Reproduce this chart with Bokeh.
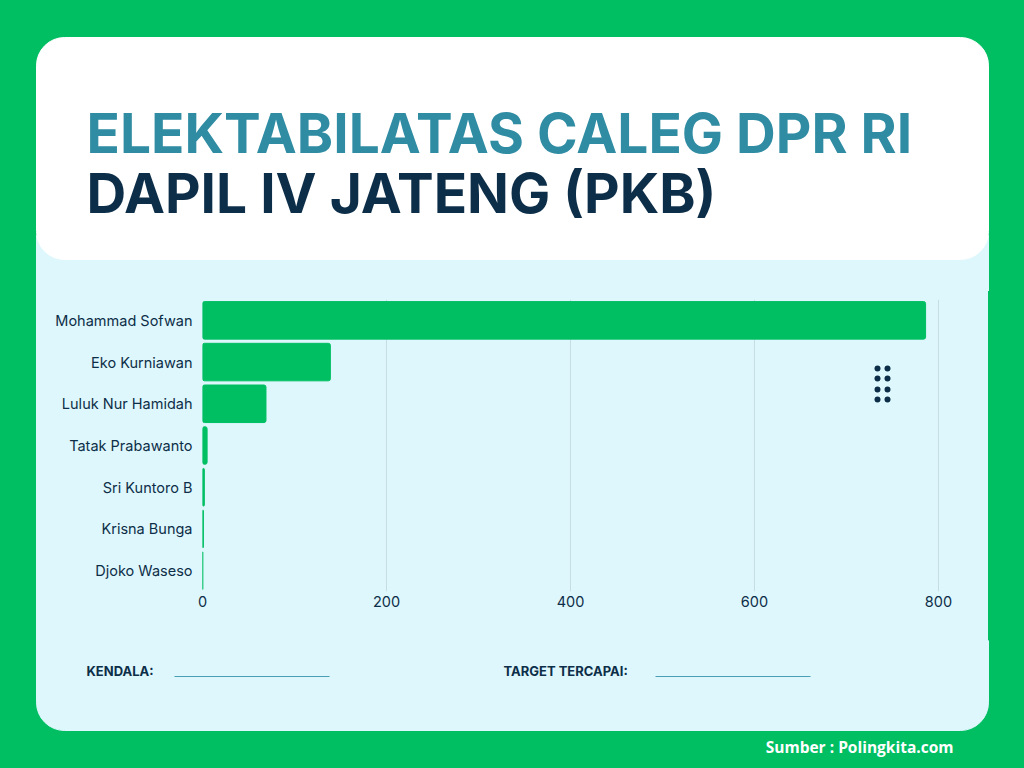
from bokeh.plotting import figure
from bokeh.layouts import column, row
from bokeh.models import BoxAnnotation, FixedTicker, Range1d, ColumnDataSource
from bokeh.core.properties import value
from bokeh.embed import file_html
from bokeh.resources import INLINE

# data
kandidat = ["Mohammad Sofwan", "Eko Kurniawan", "Luluk Nur Hamidah",
            "Tatak Prabawanto", "Sri Kuntoro B", "Krisna Bunga", "Djoko Waseso"]
suara = [786, 139, 69, 5, 2, 1, 0.4]
x_ticks = [0, 200, 400, 600, 800]

HIJAU = "#00bf63"
CYAN = "#def7fc"
NAVY = "#0d2e48"
TEAL = "#2f8ca3"

W = 1024
H_ATAS = 291      # kartu judul
H_TENGAH = 349    # area grafik
H_BAWAH = 128     # catatan + sumber
TEPI = 36         # bingkai hijau kiri/kanan

# latar css supaya sambungan antar figure tidak kelihatan
pita = (f"linear-gradient(to right, {HIJAU} {TEPI}px, {CYAN} {TEPI}px, "
        f"{CYAN} {W - TEPI}px, {HIJAU} {W - TEPI}px)")


def kanvas(w, h, css):
    # figure polos tanpa isi latar (warna dari css), koordinat = piksel
    f = figure(width=w, height=h, x_range=Range1d(0, w), y_range=Range1d(h, 0),
               output_backend="svg", toolbar_location=None, min_border=0,
               styles={"background": css})
    f.axis.visible = False
    f.grid.visible = False
    f.outline_line_color = None
    f.background_fill_color = None
    f.border_fill_color = None
    return f


# ---- bagian judul ----
atas = kanvas(W, H_ATAS, f"{pita} bottom / 100% 40px no-repeat, {HIJAU}")
atas.quad(left=TEPI, right=W - TEPI, top=235, bottom=H_ATAS + 30, color=CYAN)
atas.quad(left=TEPI, right=W - TEPI, top=37, bottom=259, color="white",
          border_radius=28)
atas.text(x=[86, 86], y=[132, 192],
          text=["ELEKTABILATAS CALEG DPR RI", "DAPIL IV JATENG (PKB)"],
          text_color=[TEAL, NAVY], text_font=value("Inter"),
          text_font_style="bold", text_font_size="55px",
          text_baseline="alphabetic")

# ---- grafik ----
source = ColumnDataSource(dict(nama=kandidat, nilai=suara))
p = figure(width=W - 2 * TEPI, height=H_TENGAH,
           y_range=list(reversed(kandidat)), x_range=Range1d(0, 812),
           output_backend="svg", toolbar_location=None,
           min_border_left=166, min_border_right=39,
           min_border_top=8, min_border_bottom=49,
           styles={"background": CYAN})
p.border_fill_color = CYAN
p.background_fill_color = CYAN
p.outline_line_color = None

p.hbar(y="nama", right="nilai", left=0, height=0.9, color=HIJAU,
       border_radius=2, source=source)

p.xaxis.ticker = FixedTicker(ticks=x_ticks)
p.xaxis.major_label_standoff = 4
p.yaxis.major_label_standoff = 10
for ax in p.axis:
    ax.axis_line_color = None
    ax.major_tick_line_color = None
    ax.minor_tick_line_color = None
    ax.major_tick_out = 0
    ax.minor_tick_out = 0
    ax.major_label_text_font = "Inter"
    ax.major_label_text_font_size = "14.5px"
    ax.major_label_text_color = NAVY
p.xgrid.grid_line_color = "#c8dde3"
p.ygrid.grid_line_color = None

# titik dekorasi (piksel kanvas grafik)
for cx in [841, 851]:
    for cy in [77, 87, 98, 108]:
        p.add_layout(BoxAnnotation(left=cx - 3, right=cx + 3, top=cy - 3,
                                   bottom=cy + 3, left_units="canvas",
                                   right_units="canvas", top_units="canvas",
                                   bottom_units="canvas", fill_color=NAVY,
                                   fill_alpha=1, line_color=None,
                                   border_radius=3))

kiri = kanvas(TEPI, H_TENGAH, HIJAU)
kanan = kanvas(TEPI, H_TENGAH, HIJAU)

# ---- bagian bawah ----
bawah = kanvas(W, H_BAWAH, f"{pita} top / 100% 40px no-repeat, {HIJAU}")
bawah.quad(left=TEPI, right=W - TEPI, top=-40, bottom=90, color=CYAN,
           border_radius=28)
bawah.text(x=[86, 503], y=[30, 30], text=["KENDALA:", "TARGET TERCAPAI:"],
           text_color=NAVY, text_font=value("Inter"), text_font_style="bold",
           text_font_size="13px", text_baseline="middle")
bawah.segment(x0=[174, 655], x1=[329, 810], y0=[36, 36], y1=[36, 36],
              line_color="#4a9fb5", line_width=1.2)
bawah.text(x=[953], y=[106], text=["Sumber : Polingkita.com"],
           text_color="white", text_font=value("Open Sans"),
           text_font_style="bold", text_font_size="15.5px",
           text_align="right", text_baseline="middle")

layout = column(atas, row(kiri, p, kanan), bawah, spacing=0)

open("out.html", "w").write(file_html(layout, INLINE))
